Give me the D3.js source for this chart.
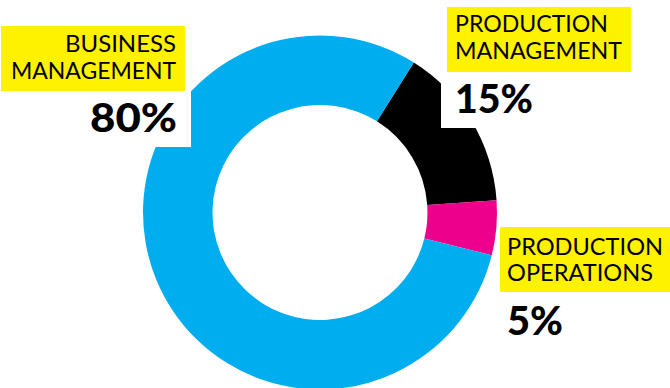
<!DOCTYPE html>
<html>
<head>
<meta charset="utf-8">
<script src="https://cdn.jsdelivr.net/npm/d3@7"></script>
<style>
  html, body { margin: 0; padding: 0; background: #fff; }
  svg { display: block; }
</style>
</head>
<body>
<svg id="chart" width="670" height="388"></svg>
<script>
// Share of roles, in drawing order clockwise from the black slice
const categories = ["PRODUCTION MANAGEMENT", "PRODUCTION OPERATIONS", "BUSINESS MANAGEMENT"];
const values = [15, 5, 80];
const colors = ["#000000", "#EC008C", "#00AEEF"];
const labelLines = [["PRODUCTION", "MANAGEMENT"], ["PRODUCTION", "OPERATIONS"], ["BUSINESS", "MANAGEMENT"]];
const valueLabels = values.map(v => v + "%");

const svg = d3.select("#chart");
const cx = 320, cy = 212.5, outerR = 177, innerR = 107.5;
const start = 32 * Math.PI / 180;

const pie = d3.pie().sort(null).value(d => d)
  .startAngle(start).endAngle(start + 2 * Math.PI);
const arc = d3.arc().innerRadius(innerR).outerRadius(outerR);

const g = svg.append("g").attr("transform", `translate(${cx},${cy})`);
g.selectAll("path")
  .data(pie(values))
  .join("path")
  .attr("d", arc)
  .attr("fill", (d, i) => colors[i]);

// Label blocks: white panel knocks out the ring, yellow tag holds the name.
// Text widths are fixed so the wide display face is approximated.
const blocks = [
  { panel: [441, 0, 229, 128], tag: [447, 7, 184, 65], anchor: "start", tx: 455,
    lines: [[32, 153], [59, 167]], pct: [455, 113, 78] },
  { panel: [497, 221, 173, 167], tag: [500, 227, 170, 65], anchor: "start", tx: 507,
    lines: [[255, 156], [281, 146]], pct: [507, 335, 56] },
  { panel: [0, 0, 191, 147], tag: [1, 26, 184, 65], anchor: "end", tx: 176,
    lines: [[52, 111], [79, 165]], pct: [177, 132, 87] }
];

blocks.forEach((b, i) => {
  svg.append("rect").attr("x", b.panel[0]).attr("y", b.panel[1])
    .attr("width", b.panel[2]).attr("height", b.panel[3]).attr("fill", "#fff");
  svg.append("rect").attr("x", b.tag[0]).attr("y", b.tag[1])
    .attr("width", b.tag[2]).attr("height", b.tag[3]).attr("fill", "#FFF200");
  b.lines.forEach(([y, w], k) => {
    svg.append("text").attr("x", b.tx).attr("y", y)
      .attr("text-anchor", b.anchor)
      .attr("font-family", "Lato, sans-serif")
      .attr("font-size", 22.5)
      .attr("fill", "#000")
      .attr("textLength", w)
      .attr("lengthAdjust", "spacingAndGlyphs")
      .text(labelLines[i][k]);
  });
  svg.append("text").attr("x", b.pct[0]).attr("y", b.pct[1])
    .attr("text-anchor", b.anchor)
    .attr("font-family", "Lato, sans-serif")
    .attr("font-weight", 900)
    .attr("font-size", 40)
    .attr("fill", "#000")
    .attr("textLength", b.pct[2])
    .attr("lengthAdjust", "spacingAndGlyphs")
    .text(valueLabels[i]);
});
</script>
</body>
</html>
